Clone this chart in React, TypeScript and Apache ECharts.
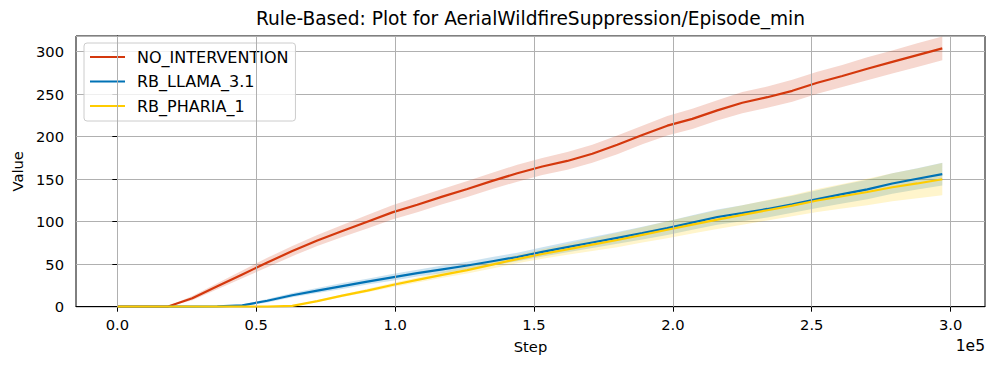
import { useEffect, useRef } from 'react';
import * as echarts from 'echarts';

const steps = [
  0, 9000, 18000, 27000, 36000, 45000, 54000, 63000, 72000, 81000, 90000, 99000,
  108000, 117000, 126000, 135000, 144000, 153000, 162000, 171000, 180000, 189000,
  198000, 207000, 216000, 225000, 234000, 243000, 252000, 261000, 270000, 279000,
  288000, 297000,
];

const noIntervention = [
  0, 0, 0, 10, 24, 38, 52, 65.5, 78, 89, 100, 111, 120, 129.5, 138.5, 148, 157, 165,
  171.5, 180, 190.5, 202, 213, 221, 231, 240, 246.5, 254, 263.5, 271.5, 280, 288, 296, 304,
];
const noInterventionStd = [
  0, 0, 0.3, 2.5, 3.5, 4.5, 5.5, 6, 6.5, 7, 8, 8.5, 9, 9, 9.5, 9.5, 10, 10, 10.5, 10.5,
  11, 11, 11.5, 12, 12, 12.5, 12.5, 13, 13, 13, 13.5, 13.5, 14, 14,
];

const rbLlama = [
  0, 0, 0, 0, 0.3, 1.5, 7, 13.5, 19, 24.3, 29.5, 34.5, 39.5, 44, 48.5, 53.5, 58.5, 64.5,
  70, 75.5, 81, 86.5, 92.5, 99, 105.5, 110, 115, 120.5, 126.5, 132.5, 138, 145, 150.5, 156,
];
const rbLlamaStd = [
  0, 0, 0, 0, 0.3, 1, 2, 2.5, 3, 3.5, 3.5, 4, 4, 4.5, 4.5, 5, 5, 5.5, 6, 6.5, 7, 7.5, 8,
  8.5, 9, 9.5, 10, 10, 10.5, 11, 11.5, 12, 12.5, 13.5,
];

const rbPharia = [
  0, 0, 0, 0, 0, 0, 0, 1, 6.5, 13, 19, 25.5, 31.5, 37.5, 43, 49.5, 56, 62, 67.5, 73,
  78.5, 84.5, 90.5, 96.5, 102.5, 108, 113.5, 119, 125, 130, 135, 140.5, 145, 150,
];
const rbPhariaStd = [
  0, 0, 0, 0, 0, 0, 0, 0.5, 1, 1.5, 2, 2.5, 3, 3.5, 4, 4.5, 5, 5.5, 6.5, 7.5, 8.5, 9, 10,
  10.5, 11, 11.5, 12, 12.5, 13.5, 14.5, 15.5, 16.5, 17.5, 19,
];

const xTickValues = [0, 50000, 100000, 150000, 200000, 250000, 300000];
const xTickLabels = ['0.0', '0.5', '1.0', '1.5', '2.0', '2.5', '3.0'];

const seriesDefs = [
  { name: 'NO_INTERVENTION', mean: noIntervention, std: noInterventionStd, color: '#d4380d' },
  { name: 'RB_LLAMA_3.1', mean: rbLlama, std: rbLlamaStd, color: '#0072b5' },
  { name: 'RB_PHARIA_1', mean: rbPharia, std: rbPhariaStd, color: '#ffcc00' },
];

const FONT = 'DejaVu Sans';
const TICK_FS = 14.7;

export default function App() {
  const ref = useRef<HTMLDivElement>(null);

  useEffect(() => {
    document.body.style.margin = '0';
    const chart = echarts.init(ref.current!, null, { renderer: 'svg' });

    const bandSeries = seriesDefs.map((d) => ({
      type: 'custom',
      name: d.name + '_band',
      silent: true,
      z: 1,
      data: [[steps[0], d.mean[0]]],
      encode: { x: 0, y: 1 },
      renderItem: (params: any, api: any) => {
        const upper = steps.map((s, i) => api.coord([s, d.mean[i] + d.std[i]]));
        const lower = steps
          .map((s, i) => api.coord([s, Math.max(0, d.mean[i] - d.std[i])]))
          .reverse();
        return {
          type: 'polygon',
          shape: { points: [...upper, ...lower] },
          style: { fill: d.color, opacity: 0.2 },
          silent: true,
        };
      },
    }));

    const gridSeries = {
      type: 'line',
      name: 'xgrid',
      data: [],
      silent: true,
      z: 2,
      markLine: {
        silent: true,
        symbol: 'none',
        label: { show: false },
        lineStyle: { color: '#b0b0b0', width: 1, type: 'solid' },
        data: xTickValues.map((v) => ({ xAxis: v })),
      },
    };

    const lineSeries = seriesDefs.map((d) => ({
      type: 'line',
      name: d.name,
      data: steps.map((s, i) => [s, d.mean[i]]),
      symbol: 'none',
      itemStyle: { color: d.color },
      lineStyle: { color: d.color, width: 2.2 },
      z: 3,
    }));

    chart.setOption({
      animation: false,
      backgroundColor: '#ffffff',
      textStyle: { fontFamily: FONT },
      grid: {
        left: 76,
        right: 12,
        top: 36,
        bottom: 61.3,
        show: true,
        borderColor: '#000',
        borderWidth: 1,
        backgroundColor: 'transparent',
      },
      xAxis: {
        type: 'value',
        min: -14875,
        max: 312375,
        name: 'Step',
        nameLocation: 'middle',
        nameGap: 32,
        nameTextStyle: { fontFamily: FONT, fontSize: TICK_FS, color: '#000' },
        axisLine: { show: true, lineStyle: { color: '#000', width: 1 } },
        axisTick: {
          show: true,
          customValues: xTickValues,
          length: 5,
          lineStyle: { color: '#000', width: 1 },
        },
        axisLabel: {
          customValues: xTickValues,
          formatter: (v: number) => {
            const i = xTickValues.indexOf(v);
            return i >= 0 ? xTickLabels[i] : '';
          },
          margin: 10,
          fontFamily: FONT,
          fontSize: TICK_FS,
          color: '#000',
        },
        splitLine: { show: false },
      },
      yAxis: {
        type: 'value',
        min: 0,
        max: 318.5,
        interval: 50,
        name: 'Value',
        nameLocation: 'middle',
        nameGap: 50,
        nameRotate: 90,
        nameTextStyle: { fontFamily: FONT, fontSize: TICK_FS, color: '#000' },
        axisLine: { show: true, lineStyle: { color: '#000', width: 1 } },
        axisTick: { show: true, length: 5, lineStyle: { color: '#000', width: 1 } },
        axisLabel: {
          formatter: (v: number) => (v % 50 === 0 ? String(v) : ''),
          margin: 12,
          fontFamily: FONT,
          fontSize: TICK_FS,
          color: '#000',
          showMaxLabel: false,
        },
        splitLine: { show: true, lineStyle: { color: '#b0b0b0', width: 1 } },
      },
      legend: {
        show: true,
        orient: 'vertical',
        left: 84,
        top: 43,
        data: seriesDefs.map((d) => d.name),
        icon: 'rect',
        itemWidth: 35,
        itemHeight: 2.2,
        itemGap: 5.5,
        padding: [4.5, 7, 5.5, 6],
        borderColor: '#cccccc',
        borderWidth: 1,
        borderRadius: 3,
        backgroundColor: 'rgba(255,255,255,0.8)',
        textStyle: {
          fontFamily: FONT,
          fontSize: 16,
          color: '#000',
          padding: [0, 0, 0, 7],
          lineHeight: 19,
        },
      },
      graphic: [
        {
          type: 'text',
          x: 530.5,
          y: 18,
          style: {
            text: 'Rule-Based: Plot for AerialWildfireSuppression/Episode_min',
            fontFamily: FONT,
            fontSize: 18.6,
            fill: '#000',
            textAlign: 'center',
            textVerticalAlign: 'middle',
          },
        },
        {
          type: 'text',
          x: 985,
          y: 346,
          style: {
            text: '1e5',
            fontFamily: FONT,
            fontSize: 15.5,
            fill: '#000',
            textAlign: 'right',
            textVerticalAlign: 'middle',
          },
        },
      ],
      series: [...bandSeries, gridSeries, ...lineSeries],
    });

    return () => chart.dispose();
  }, []);

  return <div ref={ref} style={{ width: 997, height: 368 }} />;
}
